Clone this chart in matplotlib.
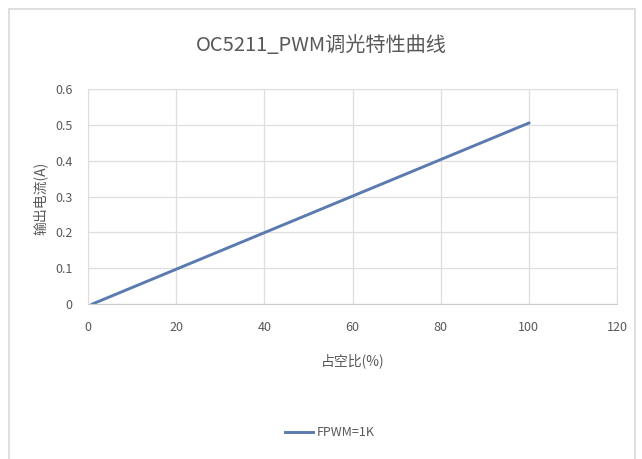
import matplotlib
matplotlib.use("Agg")
import matplotlib.pyplot as plt
from matplotlib.patches import Rectangle

plt.rcParams['font.family'] = ['Noto Sans CJK SC', 'DejaVu Sans']

# 占空比 (%) 与 输出电流 (A)
duty = [1, 20, 40, 60, 80, 100]
current = [0.0, 0.097, 0.199, 0.301, 0.403, 0.505]
series_name = "FPWM=1K"
title = "OC5211_PWM调光特性曲线"
xticks = [0, 20, 40, 60, 80, 100, 120]
yticks = [0, 0.1, 0.2, 0.3, 0.4, 0.5, 0.6]

txt = '#595959'
grid = '#dedede'

fig = plt.figure(figsize=(6.42, 4.59), dpi=100)
fig.patches.append(Rectangle((9 / 642, -0.01), 626 / 642, 1 - 9 / 459 + 0.01,
                             transform=fig.transFigure, fill=False,
                             edgecolor='#d9d9d9', linewidth=1.2))

ax = fig.add_axes([88 / 642, 1 - 304 / 459, 529 / 642, 215 / 459])
line, = ax.plot(duty, current, color='#5a7ab0', linewidth=2.1, label=series_name)

ax.set_xlim(0, 120)
ax.set_ylim(0, 0.6)
ax.set_xticks(xticks)
ax.set_yticks(yticks)
ax.set_xticklabels([str(v) for v in xticks])
ax.set_yticklabels(['0' if v == 0 else f'{v:.1f}' for v in yticks])
ax.grid(True, color=grid, linewidth=0.9)
ax.set_axisbelow(True)
for s in ['top', 'right', 'left']:
    ax.spines[s].set_color(grid)
ax.spines['bottom'].set_color('#cccccc')
ax.tick_params(length=0, colors=txt, labelsize=9, pad=12)
ax.tick_params(axis='y', pad=11)

fig.text(0.5, 1 - 45 / 459, title, ha='center', va='center', fontsize=14.5, color=txt)
ax.set_xlabel("占空比(%)", fontsize=10, color=txt, labelpad=14)
fig.text(40 / 642, 1 - 198 / 459, "输出电流(A)", rotation=90, ha='center', va='center',
         fontsize=10, color=txt)

fig.legend(handles=[line], loc='center', bbox_to_anchor=(330 / 642, 1 - 433 / 459),
           frameon=False, fontsize=9, labelcolor=txt, handlelength=2.2, handletextpad=0.3)

fig.savefig("out.png", dpi=100)
